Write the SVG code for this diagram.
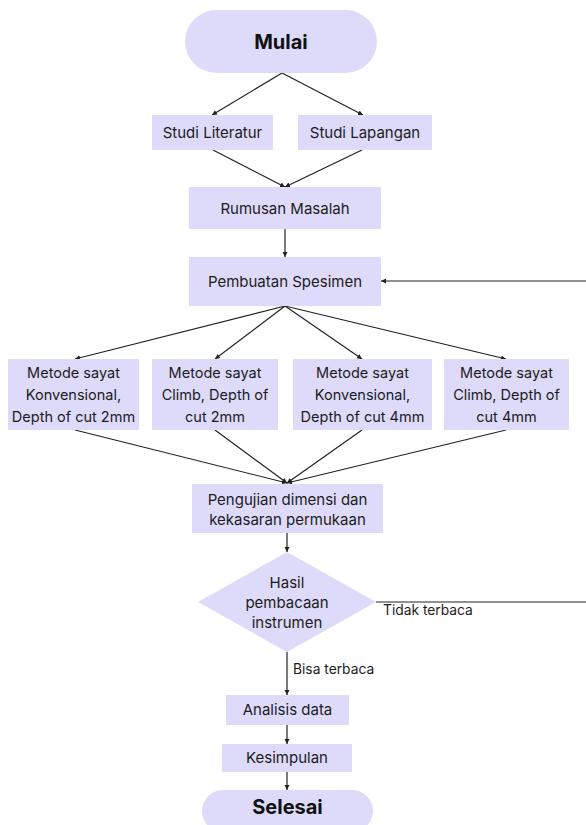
<svg xmlns="http://www.w3.org/2000/svg" width="586" height="825" viewBox="0 0 586 825">
<style>
.n{fill:#dedafa}
.t{font-family:Inter,"Liberation Sans",sans-serif;font-size:15px;fill:#1c1c1c;text-anchor:middle}
.m{font-size:14.5px}
.b{font-family:Inter,"Liberation Sans",sans-serif;font-size:20px;font-weight:bold;fill:#111;text-anchor:middle}
.l{font-family:Inter,"Liberation Sans",sans-serif;font-size:13.8px;fill:#1c1c1c}
.c{stroke:#222;stroke-width:1.2;fill:none}
</style>
<defs>
<marker id="ah" markerWidth="6" markerHeight="6" refX="5" refY="3" orient="auto" markerUnits="userSpaceOnUse">
<path d="M0,0.5 L5,3 L0,5.5 Z" fill="#222"/>
</marker>
</defs>
<rect width="586" height="825" fill="#fff"/>
<g id="connectors">
<line class="c" x1="282" y1="73" x2="212" y2="115" marker-end="url(#ah)"/>
<line class="c" x1="282" y1="73" x2="363" y2="115" marker-end="url(#ah)"/>
<line class="c" x1="213" y1="150" x2="285" y2="187" marker-end="url(#ah)"/>
<line class="c" x1="362" y1="150" x2="285" y2="187" marker-end="url(#ah)"/>
<line class="c" x1="285" y1="229" x2="285" y2="257" marker-end="url(#ah)"/>
<line class="c" x1="586" y1="281" x2="381" y2="281" marker-end="url(#ah)"/>
<line class="c" x1="285" y1="306" x2="75" y2="359" marker-end="url(#ah)"/>
<line class="c" x1="285" y1="306" x2="215" y2="359" marker-end="url(#ah)"/>
<line class="c" x1="285" y1="306" x2="362" y2="359" marker-end="url(#ah)"/>
<line class="c" x1="285" y1="306" x2="506" y2="359" marker-end="url(#ah)"/>
<line class="c" x1="75" y1="430" x2="287" y2="483" marker-end="url(#ah)"/>
<line class="c" x1="215" y1="430" x2="287" y2="483" marker-end="url(#ah)"/>
<line class="c" x1="362" y1="430" x2="287" y2="483" marker-end="url(#ah)"/>
<line class="c" x1="506" y1="430" x2="287" y2="483" marker-end="url(#ah)"/>
<line class="c" x1="287" y1="533" x2="287" y2="552" marker-end="url(#ah)"/>
<line class="c" x1="376" y1="602" x2="586" y2="602"/>
<line class="c" x1="287" y1="652" x2="287" y2="695" marker-end="url(#ah)"/>
<line class="c" x1="287" y1="725" x2="287" y2="744" marker-end="url(#ah)"/>
<line class="c" x1="287" y1="772" x2="287" y2="790" marker-end="url(#ah)"/>
<text class="l" x="383" y="615">Tidak terbaca</text>
<text class="l" x="293" y="674">Bisa terbaca</text>
</g>
<g id="mulai"><rect class="n" x="185" y="10" width="192" height="63" rx="31.5"/><text class="b" x="281" y="49">Mulai</text></g>
<g id="studi-literatur"><rect class="n" x="152" y="115" width="121" height="35"/><text class="t" x="212.5" y="138">Studi Literatur</text></g>
<g id="studi-lapangan"><rect class="n" x="298" y="115" width="134" height="35"/><text class="t" x="365" y="138">Studi Lapangan</text></g>
<g id="rumusan"><rect class="n" x="189" y="187" width="192" height="42"/><text class="t" x="285" y="213.5">Rumusan Masalah</text></g>
<g id="pembuatan"><rect class="n" x="189" y="257" width="192" height="49"/><text class="t" x="285" y="286.5">Pembuatan Spesimen</text></g>
<g id="metode1"><rect class="n" x="8" y="359" width="131" height="71"/><text class="t m" x="73.5" y="378">Metode sayat</text><text class="t m" x="73.5" y="400">Konvensional,</text><text class="t m" x="73.5" y="422">Depth of cut 2mm</text></g>
<g id="metode2"><rect class="n" x="152" y="359" width="126" height="71"/><text class="t m" x="215" y="378">Metode sayat</text><text class="t m" x="215" y="400">Climb, Depth of</text><text class="t m" x="215" y="422">cut 2mm</text></g>
<g id="metode3"><rect class="n" x="293" y="359" width="139" height="71"/><text class="t m" x="362.5" y="378">Metode sayat</text><text class="t m" x="362.5" y="400">Konvensional,</text><text class="t m" x="362.5" y="422">Depth of cut 4mm</text></g>
<g id="metode4"><rect class="n" x="444" y="359" width="125" height="71"/><text class="t m" x="506.5" y="378">Metode sayat</text><text class="t m" x="506.5" y="400">Climb, Depth of</text><text class="t m" x="506.5" y="422">cut 4mm</text></g>
<g id="pengujian"><rect class="n" x="192" y="484" width="191" height="49"/><text class="t" x="287.5" y="505">Pengujian dimensi dan</text><text class="t" x="287.5" y="524.5">kekasaran permukaan</text></g>
<g id="hasil"><polygon class="n" points="287,552 376,602 287,652 198,602"/><text class="t" x="287" y="588">Hasil</text><text class="t" x="287" y="608">pembacaan</text><text class="t" x="287" y="628">instrumen</text></g>
<g id="analisis"><rect class="n" x="226" y="695" width="123" height="30"/><text class="t" x="287.5" y="715">Analisis data</text></g>
<g id="kesimpulan"><rect class="n" x="222" y="744" width="130" height="28"/><text class="t" x="287" y="763">Kesimpulan</text></g>
<g id="selesai"><rect class="n" x="202" y="790" width="171" height="42" rx="21"/><text class="b" x="287.5" y="814">Selesai</text></g>
</svg>
